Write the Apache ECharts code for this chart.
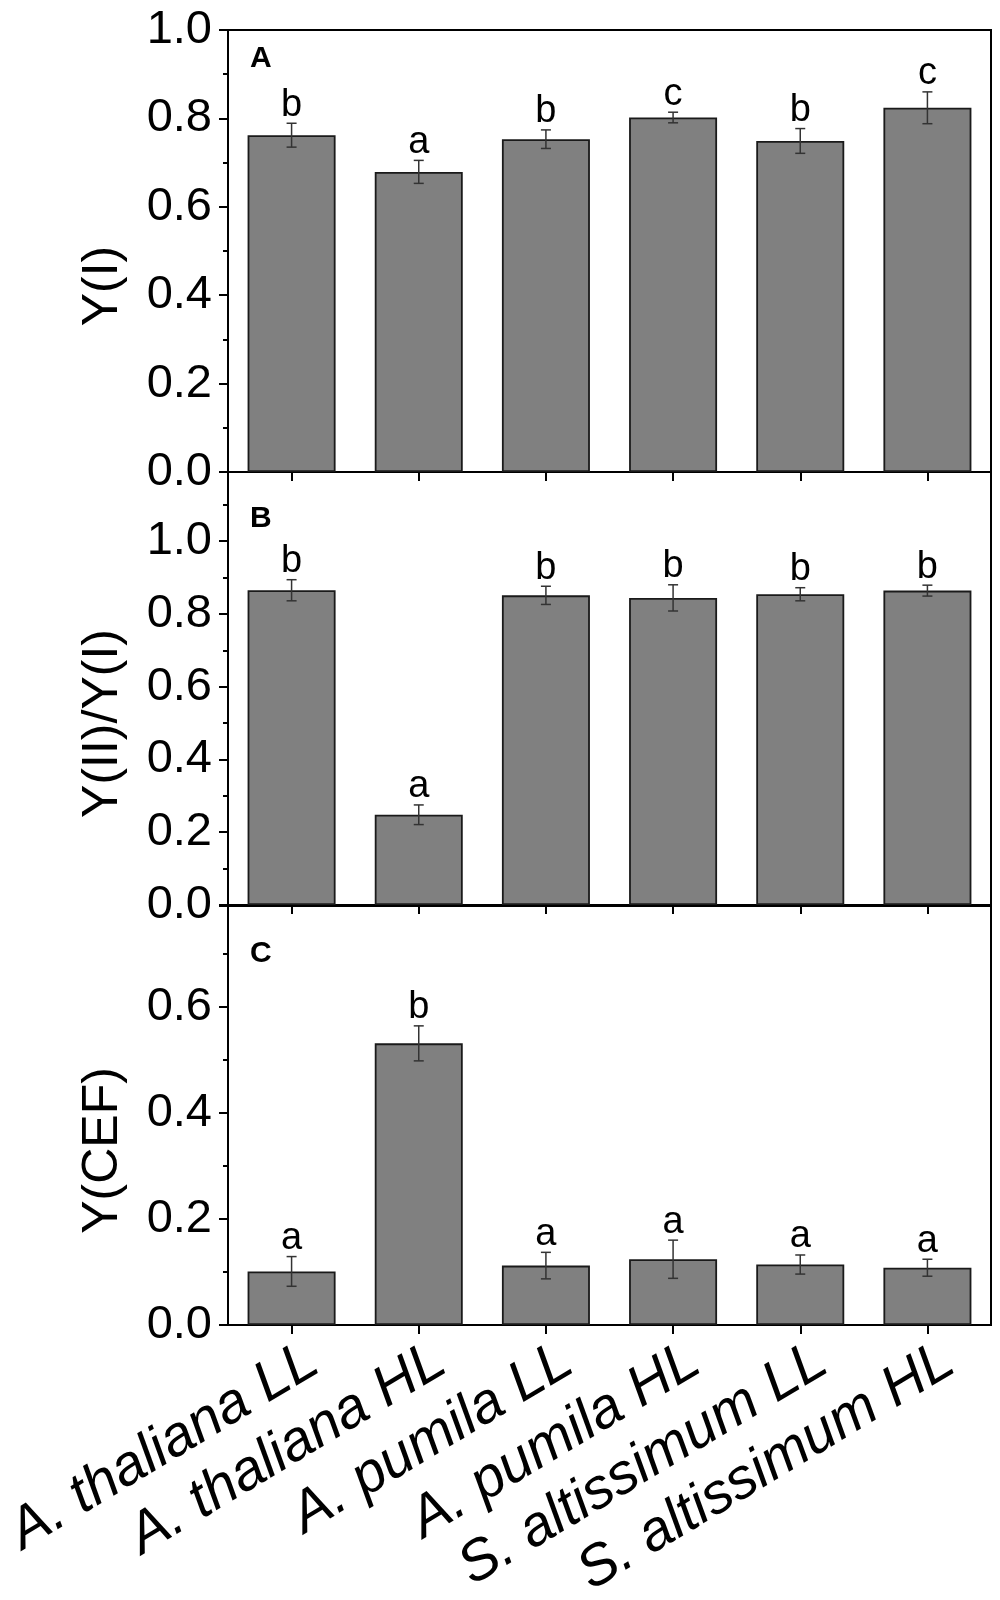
<!DOCTYPE html>
<html>
<head>
<meta charset="utf-8">
<title>Y(I), Y(II)/Y(I), Y(CEF)</title>
<script src="https://cdn.jsdelivr.net/npm/echarts@6/dist/echarts.min.js"></script>
<style>
  html, body { margin: 0; padding: 0; background: #fff; }
  #chart { width: 1000px; height: 1600px; }
</style>
</head>
<body>
<div id="chart"></div>
<script>
// categories (x axis)
var categories = ['A. thaliana LL', 'A. thaliana HL', 'A. pumila LL', 'A. pumila HL', 'S. altissimum LL', 'S. altissimum HL'];

// panel A: Y(I)
var yI = [0.762, 0.679, 0.753, 0.802, 0.749, 0.824];
var yIErr = [0.027, 0.026, 0.021, 0.012, 0.028, 0.036];
var yILetters = ['b', 'a', 'b', 'c', 'b', 'c'];

// panel B: Y(II)/Y(I)
var yRatio = [0.865, 0.248, 0.851, 0.844, 0.854, 0.864];
var yRatioErr = [0.029, 0.027, 0.025, 0.036, 0.018, 0.015];
var yRatioLetters = ['b', 'a', 'b', 'b', 'b', 'b'];

// panel C: Y(CEF)
var yCEF = [0.101, 0.531, 0.112, 0.124, 0.114, 0.108];
var yCEFErr = [0.028, 0.033, 0.025, 0.036, 0.018, 0.016];
var yCEFLetters = ['a', 'b', 'a', 'a', 'a', 'a'];

var panelNames = ['A', 'B', 'C'];
var axisNames = ['Y(I)', 'Y(II)/Y(I)', 'Y(CEF)'];
var axisMax = [1.0, 1.19, 0.79];

var FONT = '"Liberation Sans", Arial, sans-serif';

var panels = [
    { values: yI, errs: yIErr, letters: yILetters },
    { values: yRatio, errs: yRatioErr, letters: yRatioLetters },
    { values: yCEF, errs: yCEFErr, letters: yCEFLetters }
];

// grid boxes (px)
var grids = [
    { left: 228, right: 9, top: 30, height: 442 },
    { left: 228, right: 9, top: 472, height: 433 },
    { left: 228, right: 9, top: 906, height: 419 }
];

var myChart = echarts.init(document.getElementById('chart'));

var grid = [], xAxis = [], yAxis = [], series = [], title = [];

panels.forEach(function (p, i) {
    grid.push({
        left: grids[i].left, right: grids[i].right, top: grids[i].top, height: grids[i].height,
        outerBoundsMode: 'none',
        containLabel: false,
        show: true, borderColor: '#000', borderWidth: 2, backgroundColor: 'transparent'
    });

    xAxis.push({
        type: 'category',
        gridIndex: i,
        data: categories,
        axisLine: { lineStyle: { color: '#000', width: 2 } },
        axisTick: { show: true, alignWithLabel: true, length: 9, lineStyle: { color: '#000', width: 2 } },
        axisLabel: i < 2 ? { show: false } : {
            show: true,
            interval: 0,
            rotate: 31,
            verticalAlign: 'top',
            lineHeight: 86,
            margin: -5,
            color: '#000',
            fontFamily: FONT,
            fontStyle: 'italic',
            fontSize: 57
        }
    });

    yAxis.push({
        type: 'value',
        gridIndex: i,
        min: 0,
        max: axisMax[i],
        interval: 0.2,
        name: axisNames[i],
        nameLocation: 'middle',
        nameGap: 100,
        nameTextStyle: { color: '#000', fontFamily: FONT, fontSize: 50, padding: [0, 70, 0, 0] },
        axisLine: { show: true, lineStyle: { color: '#000', width: 2 } },
        axisTick: { show: true, length: 9, lineStyle: { color: '#000', width: 2 } },
        minorTick: { show: true, splitNumber: 2, length: 5, lineStyle: { color: '#000', width: 2 } },
        splitLine: { show: false },
        axisLabel: {
            color: '#000',
            fontFamily: FONT,
            fontSize: 47,
            margin: 16,
            showMaxLabel: axisMax[i] === 1.0,
            formatter: function (v) { return v.toFixed(1); }
        }
    });

    series.push({
        type: 'bar',
        xAxisIndex: i,
        yAxisIndex: i,
        barWidth: 88,
        data: p.values,
        itemStyle: { color: '#808080', borderColor: '#1a1a1a', borderWidth: 1.8 },
        silent: true
    });

    // error bars + significance letters
    series.push({
        type: 'custom',
        xAxisIndex: i,
        yAxisIndex: i,
        z: 5,
        silent: true,
        data: p.values.map(function (v, k) { return [k, v, p.errs[k]]; }),
        renderItem: function (params, api) {
            var x = api.value(0), v = api.value(1), e = api.value(2);
            var top = api.coord([x, v + e]);
            var bot = api.coord([x, v - e]);
            var cap = 5;
            var st = { stroke: '#333', lineWidth: 1.5 };
            return {
                type: 'group',
                children: [
                    { type: 'line', shape: { x1: top[0], y1: top[1], x2: bot[0], y2: bot[1] }, style: st },
                    { type: 'line', shape: { x1: top[0] - cap, y1: top[1], x2: top[0] + cap, y2: top[1] }, style: st },
                    { type: 'line', shape: { x1: bot[0] - cap, y1: bot[1], x2: bot[0] + cap, y2: bot[1] }, style: st },
                    {
                        type: 'text',
                        x: top[0], y: top[1] + 1,
                        style: {
                            text: p.letters[params.dataIndex],
                            fill: '#000',
                            font: '38px ' + FONT,
                            textAlign: 'center',
                            textVerticalAlign: 'bottom'
                        }
                    }
                ]
            };
        }
    });

    title.push({
        text: panelNames[i],
        left: 250,
        top: grids[i].top + [14, 32, 33][i],
        padding: 0,
        textStyle: { color: '#000', fontFamily: FONT, fontSize: 30, fontWeight: 'bold' }
    });
});

var option = {
    backgroundColor: '#fff',
    animation: false,
    title: title,
    grid: grid,
    xAxis: xAxis,
    yAxis: yAxis,
    series: series
};

myChart.setOption(option);

window.addEventListener('resize', function () {
    myChart.resize();
});
</script>
</body>
</html>
